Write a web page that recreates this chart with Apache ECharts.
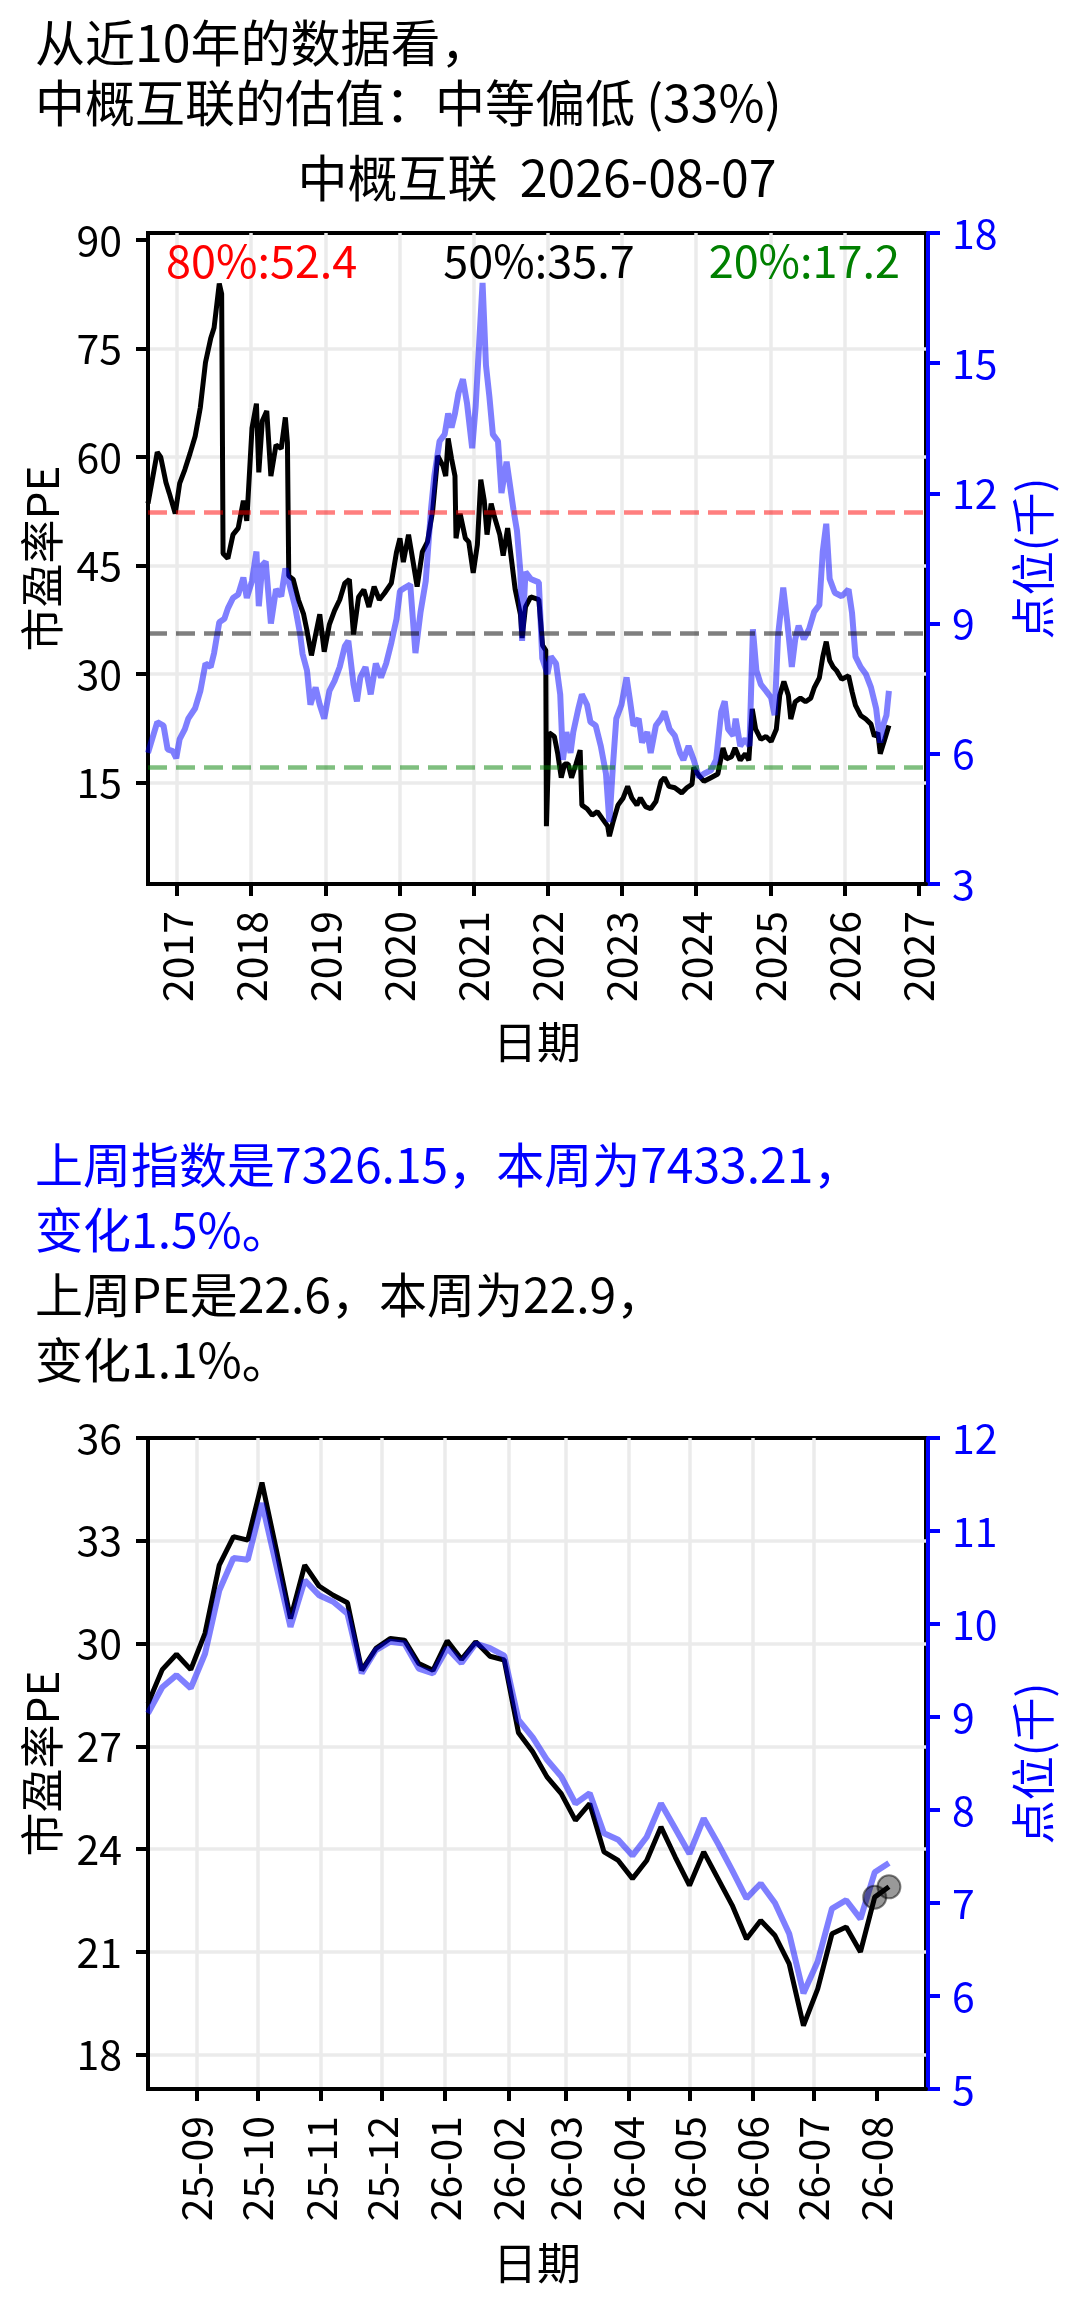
<!DOCTYPE html>
<html>
<head>
<meta charset="utf-8">
<script src="https://cdn.jsdelivr.net/npm/echarts@6/dist/echarts.min.js"></script>
<style>
  html, body { margin: 0; padding: 0; background: #fff; }
  #main { width: 1080px; height: 2303px; }
</style>
</head>
<body>
<div id="main"></div>
<script>
// ---- 近10年 (上图) ----
const peYears = [2016.61, 2016.735, 2016.782, 2016.852, 2016.898, 2016.977, 2017.037, 2017.107, 2017.176, 2017.246,
  2017.316, 2017.385, 2017.455, 2017.501, 2017.571, 2017.603, 2017.622, 2017.687, 2017.756, 2017.826,
  2017.896, 2017.942, 2018.012, 2018.072, 2018.104, 2018.151, 2018.211, 2018.267, 2018.336, 2018.406,
  2018.462, 2018.49, 2018.508, 2018.568, 2018.638, 2018.708, 2018.754, 2018.814, 2018.87, 2018.926,
  2018.986, 2019.056, 2019.125, 2019.195, 2019.264, 2019.325, 2019.381, 2019.45, 2019.52, 2019.589,
  2019.659, 2019.729, 2019.798, 2019.891, 2019.961, 2020.007, 2020.053, 2020.123, 2020.193, 2020.239,
  2020.309, 2020.378, 2020.448, 2020.517, 2020.587, 2020.624, 2020.657, 2020.703, 2020.749, 2020.763,
  2020.819, 2020.889, 2020.935, 2020.995, 2021.051, 2021.097, 2021.144, 2021.181, 2021.237, 2021.283,
  2021.353, 2021.399, 2021.459, 2021.515, 2021.561, 2021.631, 2021.654, 2021.7, 2021.77, 2021.88,
  2021.93, 2021.973, 2021.982, 2022.019, 2022.089, 2022.135, 2022.182, 2022.228, 2022.274, 2022.321,
  2022.381, 2022.437, 2022.46, 2022.53, 2022.599, 2022.669, 2022.738, 2022.808, 2022.831, 2022.878,
  2022.947, 2023.017, 2023.077, 2023.133, 2023.202, 2023.249, 2023.318, 2023.388, 2023.458, 2023.527,
  2023.574, 2023.634, 2023.713, 2023.806, 2023.875, 2023.945, 2023.968, 2024.038, 2024.107, 2024.2,
  2024.293, 2024.363, 2024.409, 2024.479, 2024.525, 2024.595, 2024.664, 2024.711, 2024.757, 2024.803,
  2024.873, 2024.943, 2025.012, 2025.082, 2025.128, 2025.184, 2025.244, 2025.277, 2025.337, 2025.407,
  2025.476, 2025.546, 2025.592, 2025.662, 2025.708, 2025.755, 2025.801, 2025.848, 2025.894, 2025.963,
  2026.056, 2026.103, 2026.149, 2026.219, 2026.288, 2026.358, 2026.404, 2026.451, 2026.483, 2026.544,
  2026.6];
const peValues = [53.6, 60.7, 60.0, 56.5, 55.0, 52.2, 56.4, 58.3, 60.5, 62.9,
  66.9, 73.1, 76.4, 77.9, 84.0, 82.6, 46.7, 46.0, 49.3, 50.2,
  54.0, 51.2, 64.0, 67.4, 57.9, 65.0, 66.4, 57.4, 61.7, 61.2,
  65.5, 62.0, 43.6, 43.1, 40.3, 38.3, 36.0, 32.6, 35.5, 38.3,
  33.1, 36.9, 38.8, 40.3, 42.6, 43.1, 35.5, 40.7, 41.7, 39.3,
  42.1, 40.3, 41.2, 42.6, 46.9, 48.8, 45.5, 49.3, 45.0, 42.1,
  46.9, 48.3, 52.6, 60.2, 58.8, 57.4, 62.6, 59.8, 57.4, 48.8,
  52.2, 48.8, 48.3, 44.0, 47.9, 56.9, 54.0, 49.3, 53.6, 51.7,
  49.3, 46.4, 50.2, 45.5, 41.7, 38.3, 35.0, 39.3, 40.7, 40.3,
  34.0, 33.3, 9.0, 21.9, 21.4, 19.0, 15.7, 17.6, 17.6, 15.7,
  17.6, 19.5, 11.9, 11.4, 10.5, 11.0, 10.0, 9.0, 7.6, 9.5,
  11.9, 12.9, 14.5, 12.9, 11.9, 12.9, 11.7, 11.4, 12.4, 15.2,
  15.7, 14.5, 14.3, 13.6, 14.3, 14.8, 17.1, 16.0, 15.2, 15.7,
  16.2, 19.8, 18.3, 18.6, 19.8, 18.1, 19.0, 18.1, 25.2, 22.4,
  21.0, 21.4, 20.7, 22.4, 27.1, 29.0, 27.1, 23.8, 26.2, 26.7,
  26.2, 26.7, 28.1, 29.5, 32.4, 34.5, 31.9, 31.0, 30.5, 29.3,
  29.8, 27.6, 25.7, 24.3, 23.8, 23.1, 21.4, 21.9, 19.0, 21.0,
  22.9];

const idxYears = [2016.61, 2016.735, 2016.819, 2016.875, 2016.944, 2016.991, 2017.037, 2017.107, 2017.153, 2017.246,
  2017.316, 2017.385, 2017.455, 2017.501, 2017.571, 2017.64, 2017.687, 2017.756, 2017.826, 2017.896,
  2017.942, 2018.012, 2018.072, 2018.104, 2018.151, 2018.197, 2018.267, 2018.336, 2018.406, 2018.462,
  2018.522, 2018.592, 2018.661, 2018.694, 2018.754, 2018.8, 2018.87, 2018.926, 2018.986, 2019.056,
  2019.125, 2019.195, 2019.264, 2019.311, 2019.381, 2019.427, 2019.473, 2019.543, 2019.613, 2019.682,
  2019.752, 2019.821, 2019.891, 2019.961, 2020.007, 2020.077, 2020.146, 2020.216, 2020.285, 2020.355,
  2020.425, 2020.471, 2020.541, 2020.61, 2020.657, 2020.703, 2020.749, 2020.796, 2020.856, 2020.912,
  2020.981, 2021.028, 2021.074, 2021.121, 2021.167, 2021.213, 2021.26, 2021.329, 2021.376, 2021.445,
  2021.492, 2021.538, 2021.585, 2021.631, 2021.654, 2021.7, 2021.77, 2021.88, 2021.926, 2021.996,
  2022.042, 2022.112, 2022.168, 2022.205, 2022.251, 2022.307, 2022.344, 2022.414, 2022.46, 2022.53,
  2022.576, 2022.646, 2022.715, 2022.785, 2022.831, 2022.878, 2022.924, 2022.994, 2023.063, 2023.11,
  2023.156, 2023.226, 2023.272, 2023.342, 2023.388, 2023.458, 2023.527, 2023.574, 2023.643, 2023.713,
  2023.783, 2023.829, 2023.899, 2023.968, 2024.038, 2024.107, 2024.2, 2024.27, 2024.339, 2024.386,
  2024.432, 2024.502, 2024.534, 2024.595, 2024.664, 2024.72, 2024.766, 2024.813, 2024.873, 2024.943,
  2025.012, 2025.059, 2025.105, 2025.175, 2025.23, 2025.291, 2025.337, 2025.383, 2025.453, 2025.523,
  2025.592, 2025.662, 2025.708, 2025.755, 2025.801, 2025.871, 2025.963, 2026.056, 2026.103, 2026.149,
  2026.219, 2026.288, 2026.358, 2026.427, 2026.483, 2026.52, 2026.567, 2026.6];
const idxValues = [6.02, 6.73, 6.65, 6.10, 6.06, 5.90, 6.34, 6.57, 6.81, 7.05,
  7.45, 8.08, 8.00, 8.32, 9.03, 9.11, 9.35, 9.59, 9.67, 10.06,
  9.59, 9.98, 10.66, 9.40, 10.35, 10.43, 9.00, 9.79, 9.63, 10.27,
  9.87, 9.40, 8.76, 8.30, 7.92, 7.13, 7.53, 7.13, 6.81, 7.45,
  7.68, 8.00, 8.48, 8.60, 7.60, 7.21, 7.76, 8.00, 7.37, 8.08,
  7.76, 8.08, 8.56, 9.11, 9.75, 9.83, 9.90, 8.32, 9.27, 9.98,
  11.62, 12.41, 13.20, 13.36, 13.84, 13.52, 13.84, 14.31, 14.63, 14.07,
  13.04, 14.00, 15.42, 16.85, 14.95, 14.23, 13.36, 13.20, 12.01, 12.73,
  12.17, 11.62, 11.14, 10.19, 8.60, 10.19, 10.03, 9.95, 8.20, 7.84,
  8.24, 8.08, 7.37, 5.86, 6.50, 6.02, 6.50, 7.05, 7.37, 7.13,
  6.73, 6.65, 6.18, 5.54, 4.43, 5.70, 6.81, 7.13, 7.76, 7.21,
  6.65, 6.81, 6.26, 6.50, 6.02, 6.65, 6.81, 6.97, 6.57, 6.42,
  6.02, 5.86, 6.18, 5.86, 5.46, 5.54, 5.62, 5.86, 6.97, 7.21,
  6.57, 6.42, 6.81, 6.18, 6.34, 6.18, 8.87, 7.92, 7.60, 7.45,
  7.29, 6.89, 8.72, 9.83, 9.03, 8.00, 8.64, 8.95, 8.64, 8.87,
  9.27, 9.43, 10.66, 11.30, 10.03, 9.71, 9.63, 9.79, 9.24, 8.24,
  8.00, 7.84, 7.53, 7.05, 6.26, 6.65, 6.89, 7.45];

const yearTicks = [2017, 2018, 2019, 2020, 2021, 2022, 2023, 2024, 2025, 2026, 2027];
const peTicksTop = [15, 30, 45, 60, 75, 90];
const pctLevels = [52.4, 35.7, 17.2];
const pctLabels = ['80%:52.4', '50%:35.7', '20%:17.2'];

// ---- 近一年 (下图) ----
const weekDates = ['2025-08-08', '2025-08-15', '2025-08-22', '2025-08-29', '2025-09-05', '2025-09-12', '2025-09-19', '2025-09-26',
  '2025-10-03', '2025-10-10', '2025-10-17', '2025-10-24', '2025-10-31', '2025-11-07', '2025-11-14', '2025-11-21', '2025-11-28',
  '2025-12-05', '2025-12-12', '2025-12-19', '2025-12-26', '2026-01-02', '2026-01-09', '2026-01-16', '2026-01-23', '2026-01-30',
  '2026-02-06', '2026-02-13', '2026-02-20', '2026-02-27', '2026-03-06', '2026-03-13', '2026-03-20', '2026-03-27',
  '2026-04-03', '2026-04-10', '2026-04-17', '2026-04-24', '2026-05-01', '2026-05-08', '2026-05-15', '2026-05-22', '2026-05-29',
  '2026-06-05', '2026-06-12', '2026-06-19', '2026-06-26', '2026-07-03', '2026-07-10', '2026-07-17', '2026-07-24', '2026-07-31',
  '2026-08-07'];
const weekPE = [28.25, 29.24, 29.69, 29.24, 30.3, 32.29, 33.12, 33.02, 34.7, 32.75,
  30.73, 32.29, 31.68, 31.41, 31.19, 29.22, 29.86, 30.15, 30.1, 29.42,
  29.22, 30.08, 29.54, 30.05, 29.63, 29.52, 27.4, 26.84, 26.11, 25.62,
  24.84, 25.33, 23.92, 23.67, 23.14, 23.67, 24.65, 23.77, 22.94, 23.92,
  23.14, 22.36, 21.38, 21.92, 21.48, 20.65, 18.85, 19.92, 21.53, 21.73,
  21.0, 22.6, 22.9];
const weekIdx = [9.04, 9.32, 9.45, 9.31, 9.68, 10.36, 10.71, 10.69, 11.3, 10.63,
  9.97, 10.47, 10.31, 10.24, 10.11, 9.47, 9.72, 9.81, 9.79, 9.52,
  9.47, 9.74, 9.58, 9.79, 9.74, 9.66, 8.97, 8.78, 8.54, 8.36,
  8.07, 8.18, 7.75, 7.68, 7.51, 7.71, 8.07, 7.8, 7.53, 7.91,
  7.64, 7.35, 7.05, 7.21, 7.0, 6.67, 6.03, 6.37, 6.94, 7.03,
  6.83, 7.33, 7.43];
const monthTicks = ['2025-09-01', '2025-10-01', '2025-11-01', '2025-12-01', '2026-01-01', '2026-02-01',
  '2026-03-01', '2026-04-01', '2026-05-01', '2026-06-01', '2026-07-01', '2026-08-01'];
const peTicksBottom = [18, 21, 24, 27, 30, 33, 36];

const FONT = '"Noto Sans CJK SC", "Noto Sans", sans-serif';
const BLUE = '#0000ff';
const DASH = [19, 9];

function ts(s) { return new Date(s + 'T00:00:00').getTime(); }
function ymLabel(v) {
  const d = new Date(v);
  return String(d.getFullYear()).slice(2) + '-' + String(d.getMonth() + 1).padStart(2, '0');
}
function gridLine() {
  // 最大值处不画网格线，免得盖住黑色边框
  return { show: true, showMaxLine: false, lineStyle: { color: '#ebebeb', width: 3.5 } };
}

const chart = echarts.init(document.getElementById('main'), null, { renderer: 'canvas' });

const monthTs = monthTicks.map(ts);
const bMin = ts(weekDates[0]);
const bLast = ts(weekDates[weekDates.length - 1]);
const bMax = bLast + (bLast - bMin) * 0.05;

function leftAxis(gridIndex, min, max, ticks) {
  return {
    type: 'value', gridIndex: gridIndex, position: 'left', min: min, max: max,
    axisLine: { show: true, onZero: false, lineStyle: { color: '#000', width: 4 } },
    axisTick: { show: true, length: 12, lineStyle: { color: '#000', width: 4 }, customValues: ticks },
    axisLabel: { fontSize: 41, color: '#000', fontFamily: FONT, margin: 26, customValues: ticks },
    splitLine: gridLine(),
    name: '市盈率PE', nameLocation: 'middle', nameRotate: 90, nameGap: 84,
    nameTextStyle: { fontSize: 44, color: '#000', fontFamily: FONT }
  };
}
function rightAxis(gridIndex, min, max, interval) {
  return {
    type: 'value', gridIndex: gridIndex, position: 'right', min: min, max: max, interval: interval,
    offset: 2,
    axisLine: { show: true, onZero: false, lineStyle: { color: BLUE, width: 4 } },
    axisTick: { show: true, length: 12, lineStyle: { color: BLUE, width: 4 } },
    axisLabel: { fontSize: 41, color: BLUE, fontFamily: FONT, margin: 24 },
    splitLine: { show: false },
    name: '点位(千)', nameLocation: 'middle', nameRotate: 90, nameGap: 83,
    nameTextStyle: { fontSize: 44, color: BLUE, fontFamily: FONT }
  };
}
function bottomAxis(gridIndex, min, max, ticks, fmt, gap) {
  return {
    type: 'value', gridIndex: gridIndex, min: min, max: max,
    axisLine: { show: true, onZero: false, lineStyle: { color: '#000', width: 4 } },
    axisTick: { show: true, length: 12, lineStyle: { color: '#000', width: 4 }, customValues: ticks },
    axisLabel: { rotate: 90, fontSize: 41, color: '#000', fontFamily: FONT, margin: 27,
      customValues: ticks, formatter: fmt },
    splitLine: gridLine(),
    name: '日期', nameLocation: 'middle', nameGap: gap,
    nameTextStyle: { fontSize: 44, color: '#000', fontFamily: FONT }
  };
}

function label(text, x, y, color, size, align) {
  return { type: 'text', x: x, y: y, z: 100,
    style: { text: text, fill: color, font: size + 'px ' + FONT, align: align, verticalAlign: 'top' } };
}

const option = {
  animation: false,
  backgroundColor: '#fff',
  textStyle: { fontFamily: FONT },
  grid: [
    { left: 148, top: 233, width: 778, height: 651, show: true, borderColor: '#000', borderWidth: 4,
      backgroundColor: 'transparent', containLabel: false },
    { left: 148, top: 1438, width: 778, height: 651, show: true, borderColor: '#000', borderWidth: 4,
      backgroundColor: 'transparent', containLabel: false }
  ],
  xAxis: [
    bottomAxis(0, peYears[0], 2027.1, yearTicks, v => String(Math.round(v)), 136),
    bottomAxis(1, bMin, bMax, monthTs, ymLabel, 152)
  ],
  yAxis: [
    leftAxis(0, 1, 91, peTicksTop),
    rightAxis(0, 3, 18, 3),
    leftAxis(1, 17, 36, peTicksBottom),
    rightAxis(1, 5, 12, 1)
  ],
  series: [
    {
      type: 'line', xAxisIndex: 0, yAxisIndex: 0, showSymbol: false, z: 3,
      data: peYears.map((x, i) => [x, peValues[i]]),
      lineStyle: { color: '#000', width: 5 }, itemStyle: { color: '#000' },
      markLine: {
        silent: true, symbol: ['none', 'none'], label: { show: false },
        lineStyle: { type: DASH, width: 4.5 },
        data: [
          { yAxis: pctLevels[0], lineStyle: { color: 'rgba(255,0,0,0.5)', type: DASH, width: 4.5 } },
          { yAxis: pctLevels[1], lineStyle: { color: 'rgba(0,0,0,0.5)', type: DASH, width: 4.5 } },
          { yAxis: pctLevels[2], lineStyle: { color: 'rgba(0,128,0,0.5)', type: DASH, width: 4.5 } }
        ]
      }
    },
    {
      type: 'line', xAxisIndex: 0, yAxisIndex: 1, showSymbol: false, z: 4,
      data: idxYears.map((x, i) => [x, idxValues[i]]),
      lineStyle: { color: 'rgba(0,0,255,0.5)', width: 6 }, itemStyle: { color: 'rgba(0,0,255,0.5)' }
    },
    {
      type: 'line', xAxisIndex: 1, yAxisIndex: 2, showSymbol: false, z: 3,
      data: weekDates.map((d, i) => [ts(d), weekPE[i]]),
      lineStyle: { color: '#000', width: 5 }, itemStyle: { color: '#000' }
    },
    {
      type: 'line', xAxisIndex: 1, yAxisIndex: 3, showSymbol: false, z: 4,
      data: weekDates.map((d, i) => [ts(d), weekIdx[i]]),
      lineStyle: { color: 'rgba(0,0,255,0.5)', width: 6 }, itemStyle: { color: 'rgba(0,0,255,0.5)' }
    },
    {
      type: 'scatter', xAxisIndex: 1, yAxisIndex: 2, z: 5, symbolSize: 23,
      data: weekDates.slice(-2).map((d, i) => [ts(d), weekPE.slice(-2)[i]]),
      itemStyle: { color: 'rgba(0,0,0,0.5)', borderColor: 'rgba(0,0,0,0.6)', borderWidth: 2 }
    }
  ],
  graphic: [
    label('从近10年的数据看，', 35, 18, '#000', 50, 'left'),
    label('中概互联的估值：中等偏低 (33%)', 35, 78, '#000', 50, 'left'),
    label('中概互联  2026-08-07', 537, 153, '#000', 50, 'center'),
    label(pctLabels[0], 166, 238, '#ff0000', 45, 'left'),
    label(pctLabels[1], 539, 238, '#000', 45, 'center'),
    label(pctLabels[2], 900, 238, '#008000', 45, 'right'),
    label('上周指数是7326.15，本周为7433.21，', 35, 1141, BLUE, 48, 'left'),
    label('变化1.5%。', 35, 1206, BLUE, 48, 'left'),
    label('上周PE是22.6，本周为22.9，', 35, 1271, '#000', 48, 'left'),
    label('变化1.1%。', 35, 1336, '#000', 48, 'left')
  ]
};

chart.setOption(option);
</script>
</body>
</html>
